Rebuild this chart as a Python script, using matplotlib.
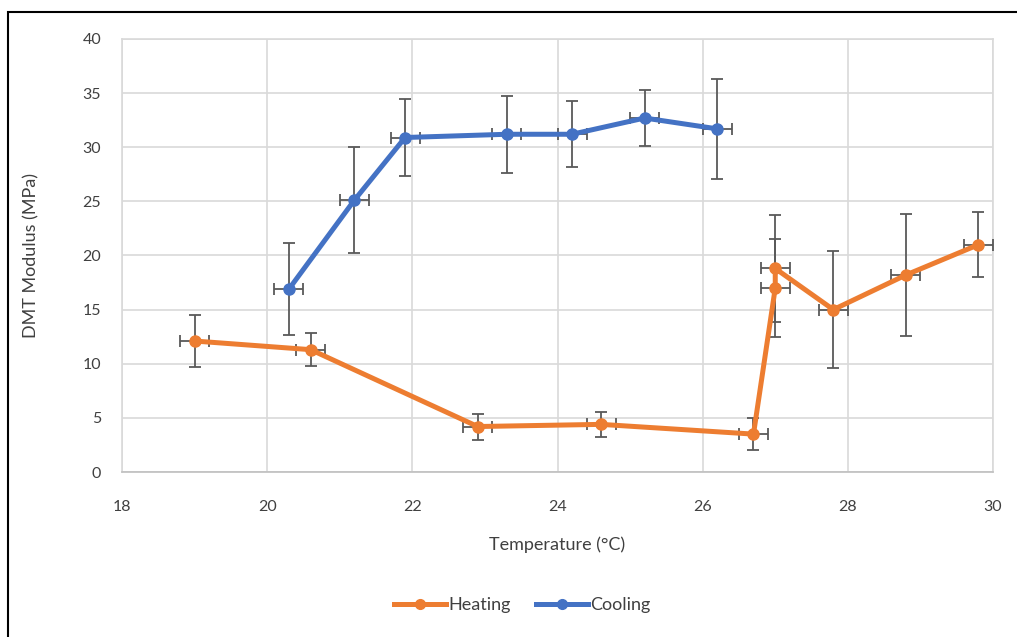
import matplotlib
matplotlib.use("Agg")
import matplotlib.pyplot as plt
from matplotlib.patches import Rectangle
from matplotlib.lines import Line2D

# Heating run: temperature (°C), DMT modulus (MPa) and their uncertainties
heat_temp = [19.0, 20.6, 22.9, 24.6, 26.7, 27.0, 27.0, 27.8, 28.8, 29.8]
heat_mod = [12.1, 11.3, 4.2, 4.4, 3.5, 17.0, 18.8, 15.0, 18.2, 21.0]
heat_mod_err = [2.4, 1.5, 1.2, 1.15, 1.5, 4.5, 4.9, 5.4, 5.6, 3.0]
heat_temp_err = [0.2] * 10

# Cooling run
cool_temp = [20.3, 21.2, 21.9, 23.3, 24.2, 25.2, 26.2]
cool_mod = [16.9, 25.1, 30.9, 31.2, 31.2, 32.7, 31.7]
cool_mod_err = [4.25, 4.9, 3.6, 3.55, 3.05, 2.6, 4.6]
cool_temp_err = [0.2] * 7

x_ticks = [18, 20, 22, 24, 26, 28, 30]
y_ticks = [0, 5, 10, 15, 20, 25, 30, 35, 40]

ORANGE = "#ED7D31"
BLUE = "#4472C4"
ERR = "#595959"
GRID = "#D9D9D9"
TEXT = "#404040"

plt.rcParams["font.family"] = ["Lato", "DejaVu Sans"]

fig = plt.figure(figsize=(10.17, 6.37), dpi=100)
ax = fig.add_axes([122 / 1017, 1 - 472 / 637, (993 - 122) / 1017, (472 - 39) / 637])

for t, m, te, me, c in [
    (heat_temp, heat_mod, heat_temp_err, heat_mod_err, ORANGE),
    (cool_temp, cool_mod, cool_temp_err, cool_mod_err, BLUE),
]:
    ax.errorbar(t, m, yerr=me, xerr=te, fmt="none", ecolor=ERR,
                elinewidth=1.3, capsize=4.5, capthick=1.3, zorder=3)
    ax.plot(t, m, color=c, lw=3.6, marker="o", ms=8,
            solid_capstyle="round", solid_joinstyle="round", zorder=4)

ax.set_xlim(18, 30)
ax.set_ylim(0, 40)
ax.set_xticks(x_ticks)
ax.set_yticks(y_ticks)
ax.tick_params(length=0, labelsize=11.5, labelcolor=TEXT)
ax.tick_params(axis="x", pad=20)
ax.tick_params(axis="y", pad=15)
ax.grid(True, color=GRID, lw=1.2, zorder=0)
ax.set_axisbelow(True)
for side, sp in ax.spines.items():
    sp.set_color(GRID)
    sp.set_linewidth(1.2)
ax.spines["bottom"].set_color("#BFBFBF")

ax.set_xlabel("Temperature (°C)", fontsize=13, color=TEXT, labelpad=16)
ax.set_ylabel("DMT Modulus (MPa)", fontsize=13, color=TEXT, labelpad=31)

handles = [
    Line2D([], [], color=ORANGE, lw=3.6, marker="o", ms=7),
    Line2D([], [], color=BLUE, lw=3.6, marker="o", ms=7),
]
fig.legend(handles, ["Heating", "Cooling"], loc="center",
           bbox_to_anchor=(522 / 1017, 1 - 605 / 637), ncol=2, frameon=False,
           fontsize=13, handlelength=2.9, handletextpad=0.1, columnspacing=1.4,
           labelcolor=TEXT)

# Frame around the chart area
fig.patches.append(Rectangle((8 / 1017, -0.05), 1.2, 1 - 12 / 637 + 0.05,
                             transform=fig.transFigure, fill=False,
                             edgecolor="black", lw=1.5, zorder=10))

fig.savefig("out.png", dpi=100)
